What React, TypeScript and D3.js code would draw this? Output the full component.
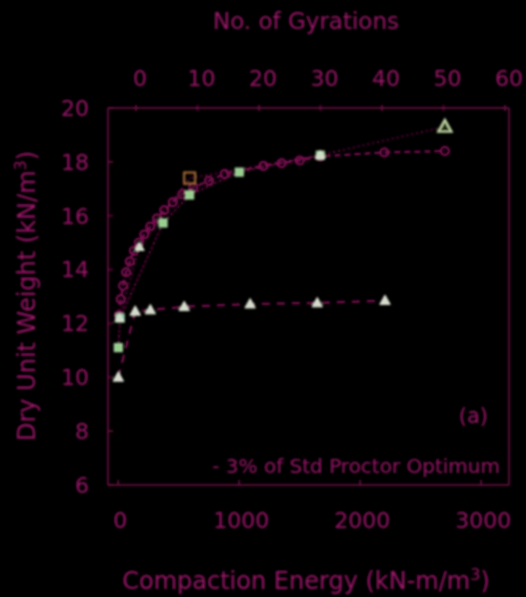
import React, { useEffect } from "react";
import * as d3 from "d3";

// ---- data ----
const energyTicks = [0, 1000, 2000, 3000];
const gyrationTicks = [0, 10, 20, 30, 40, 50, 60];
const weightTicks = [6, 8, 10, 12, 14, 16, 18, 20];

// gyratory-type curve, open circles
const circleEnergy = [5, 20, 40, 65, 95, 130, 170, 215, 265, 320, 380, 450, 530, 620, 750, 880, 1200, 1350, 1500, 1670, 2200, 2700];
const circleWeight = [12.3, 12.9, 13.4, 13.9, 14.3, 14.7, 15.0, 15.3, 15.6, 15.9, 16.2, 16.5, 16.8, 17.05, 17.3, 17.55, 17.85, 17.95, 18.05, 18.2, 18.35, 18.4];

// filled squares
const squareEnergy = [0, 15, 370, 590, 1000, 1670];
const squareWeight = [11.1, 12.2, 15.73, 16.77, 17.62, 18.25];

// low triangles
const lowTriEnergy = [0, 140, 265, 545, 1090, 1645, 2205];
const lowTriWeight = [10.0, 12.45, 12.5, 12.62, 12.72, 12.76, 12.85];

// upper triangles
const upTriEnergy = [10, 175, 590, 1670, 2700];
const upTriWeight = [12.2, 14.84, 17.4, 18.25, 19.3];

const TEXT = "#9a1768";
const AXIS = "#740f48";
const LINE = "#88115a";

export default function App() {
  useEffect(() => {
    document.body.style.margin = "0";
    document.body.style.background = "#000";
  }, []);

  const W = 526, H = 597;
  const left = 108, right = 509, top = 108, bottom = 485;
  const x = d3.scaleLinear().domain([-85, 3230]).range([left, right]);
  const xg = d3.scaleLinear().domain([-4.55, 60.65]).range([left, right]);
  const y = d3.scaleLinear().domain([6, 20]).range([bottom, top]);

  const line = d3.line<[number, number]>().x(d => x(d[0])).y(d => y(d[1]));
  const zip = (a: number[], b: number[]) => a.map((v, i) => [v, b[i]] as [number, number]);

  const circles = zip(circleEnergy, circleWeight);
  const squares = zip(squareEnergy, squareWeight);
  const lowTri = zip(lowTriEnergy, lowTriWeight);
  const upTri = zip(upTriEnergy, upTriWeight);

  const tri = (cx: number, cy: number, r: number) =>
    `M${cx},${cy - r}L${cx + r * 0.95},${cy + r * 0.7}L${cx - r * 0.95},${cy + r * 0.7}Z`;

  const font = "DejaVu Sans, sans-serif";

  return (
    <svg width={W} height={H} style={{ position: "absolute", left: 0, top: 0, background: "#000" }}>
      <defs>
        <filter id="soft" x="-5%" y="-5%" width="110%" height="110%">
          <feGaussianBlur stdDeviation="0.9" />
        </filter>
      </defs>
      <rect x={0} y={0} width={W} height={H} fill="#000" />
      <g filter="url(#soft)">
        {/* frame */}
        <line x1={left} x2={right} y1={top} y2={top} stroke={AXIS} strokeWidth={1.5} />
        <line x1={left} x2={right} y1={bottom} y2={bottom} stroke={AXIS} strokeWidth={1.5} />
        <line x1={left} x2={left} y1={top} y2={bottom} stroke={AXIS} strokeWidth={1.5} />
        <line x1={right} x2={right} y1={top} y2={bottom} stroke={AXIS} strokeWidth={1.5} />

        {/* left ticks */}
        {weightTicks.map(t => (
          <g key={"yt" + t}>
            <line x1={left} x2={left + 5} y1={y(t)} y2={y(t)} stroke={AXIS} strokeWidth={1.5} />
            <text x={89} y={y(t)} dy="0.36em" textAnchor="end" fill={TEXT} fontFamily={font} fontSize={22}>{t}</text>
          </g>
        ))}
        {/* bottom ticks */}
        {energyTicks.map(t => (
          <g key={"xt" + t}>
            <line x1={x(t)} x2={x(t)} y1={bottom} y2={bottom - 5} stroke={AXIS} strokeWidth={1.5} />
            <text x={x(t) + 2} y={520} dy="0.36em" textAnchor="middle" fill={TEXT} fontFamily={font} fontSize={22}>{t}</text>
          </g>
        ))}
        {/* top ticks */}
        {gyrationTicks.map(t => (
          <g key={"gt" + t}>
            <line x1={xg(t)} x2={xg(t)} y1={top - 3} y2={top + 3} stroke={AXIS} strokeWidth={1.5} />
            <text x={xg(t) + 4} y={78} dy="0.36em" textAnchor="middle" fill={TEXT} fontFamily={font} fontSize={22}>{t}</text>
          </g>
        ))}

        {/* titles */}
        <text x={306} y={21} dy="0.36em" textAnchor="middle" fill={TEXT} fontFamily={font} fontSize={23}>No. of Gyrations</text>
        <text x={306} y={580} dy="0.36em" textAnchor="middle" fill={TEXT} fontFamily={font} fontSize={24}>
          Compaction Energy (kN-m/m<tspan dy="-9" fontSize={16}>3</tspan><tspan dy="9">)</tspan>
        </text>
        <text transform={`translate(26,296) rotate(-90)`} dy="0.36em" textAnchor="middle" fill={TEXT} fontFamily={font} fontSize={24}>
          Dry Unit Weight (kN/m<tspan dy="-9" fontSize={16}>3</tspan><tspan dy="9">)</tspan>
        </text>
        <text x={488} y={415} dy="0.36em" textAnchor="end" fill={TEXT} fontFamily={font} fontSize={21}>(a)</text>
        <text x={500} y={466} dy="0.36em" textAnchor="end" fill={TEXT} fontFamily={font} fontSize={20}>- 3% of Std Proctor Optimum</text>

        {/* lines */}
        <path d={line(lowTri) || ""} fill="none" stroke={LINE} strokeWidth={2} strokeDasharray="8,7" />
        <path d={line(upTri) || ""} fill="none" stroke={LINE} strokeWidth={1.3} strokeDasharray="2,3" />
        <path d={line(squares) || ""} fill="none" stroke={LINE} strokeWidth={1.3} strokeDasharray="3,2" />
        <path d={line(circles) || ""} fill="none" stroke={LINE} strokeWidth={2} strokeDasharray="6,4" />

        {/* markers */}
        {circles.map((d, i) => (
          <circle key={"c" + i} cx={x(d[0])} cy={y(d[1])} r={4} fill="none" stroke={LINE} strokeWidth={2} />
        ))}
        {squares.map((d, i) => (
          <rect key={"s" + i} x={x(d[0]) - 4} y={y(d[1]) - 4} width={8} height={8}
            fill={i === 1 ? "#52c8b0" : "#94d08c"} stroke="#b8dcae" strokeWidth={1} />
        ))}
        {lowTri.map((d, i) => (
          <path key={"lt" + i} d={tri(x(d[0]), y(d[1]), 5.5)} fill="#d6dccc" stroke="#e4eadc" strokeWidth={1} />
        ))}
        {upTri.map((d, i) => (
          i === 2
            ? <rect key={"ut" + i} x={x(d[0]) - 5.5} y={y(d[1]) - 5.5} width={11} height={11} fill="none" stroke="#b07038" strokeWidth={2} />
            : i === 4
              ? <path key={"ut" + i} d={tri(x(d[0]), y(d[1]), 7)} fill="#1c260a" stroke="#c6dca8" strokeWidth={2.2} />
              : <path key={"ut" + i} d={tri(x(d[0]), y(d[1]), 5)} fill="#d0dcc8" stroke="#dde6d4" strokeWidth={1} />
        ))}
      </g>
    </svg>
  );
}
